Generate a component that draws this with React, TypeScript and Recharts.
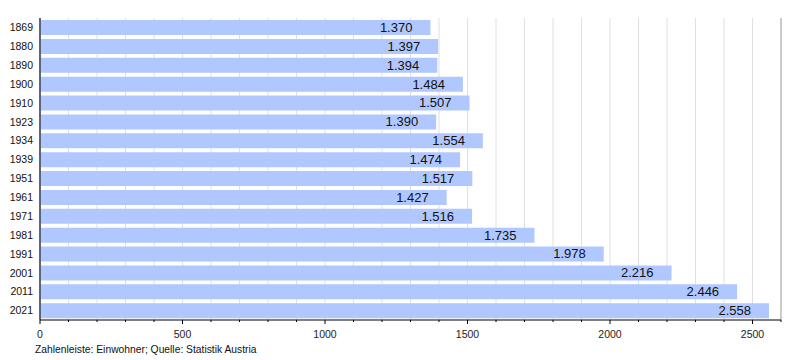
import { BarChart, Bar, XAxis, YAxis, CartesianGrid, LabelList } from 'recharts'

const years = ['1869', '1880', '1890', '1900', '1910', '1923', '1934', '1939', '1951', '1961', '1971', '1981', '1991', '2001', '2011', '2021']
const population = [1370, 1397, 1394, 1484, 1507, 1390, 1554, 1474, 1517, 1427, 1516, 1735, 1978, 2216, 2446, 2558]
const minorTicks = Array.from({ length: 27 }, (_, i) => i * 100)
const majorTicks = [0, 500, 1000, 1500, 2000, 2500]

const data = years.map((y, i) => ({ year: y, value: population[i] }))

const font = '"Liberation Sans", Arial, sans-serif'

function fmtDe(v: number) {
  const s = String(v)
  return s.length > 3 ? s.slice(0, -3) + '.' + s.slice(-3) : s
}

function XTick(props: any) {
  const { x, y, payload } = props
  const major = payload.value % 500 === 0
  return (
    <g>
      <line x1={x} x2={x} y1={y} y2={y + (major ? 4 : 2)} stroke="#000" strokeWidth={1} />
      {major && (
        <text x={x} y={y + 18} textAnchor="middle" fontSize={10.5} fill="#222" fontFamily={font}>
          {payload.value}
        </text>
      )}
    </g>
  )
}

function ValueLabel(props: any) {
  const { x, y, width, height, value } = props
  return (
    <text
      x={x + width - 18}
      y={y + height / 2 + 1}
      textAnchor="end"
      dominantBaseline="middle"
      fontSize={13}
      fill="#111"
      fontFamily={font}
    >
      {fmtDe(value)}
    </text>
  )
}

export default function App() {
  return (
    <div style={{ position: 'absolute', left: 0, top: 0, width: 800, height: 360, background: '#fff' }}>
      <BarChart
        width={800}
        height={360}
        data={data}
        layout="vertical"
        margin={{ top: 18, right: 19, left: 0, bottom: 0 }}
      >
        <CartesianGrid horizontal={false} stroke="#e0e0e0" />
        <CartesianGrid horizontal={false} xAxisId="major" stroke="#a8a8a8" />
        <XAxis
          type="number"
          dataKey="value"
          domain={[0, 2600]}
          ticks={minorTicks}
          interval={0}
          height={40}
          tickSize={0}
          tickMargin={0}
          tickLine={false}
          axisLine={{ stroke: '#000' }}
          tick={<XTick />}
        />
        <XAxis xAxisId="major" type="number" domain={[0, 2600]} ticks={majorTicks} hide />
        <YAxis
          type="category"
          dataKey="year"
          width={40}
          tickSize={0}
          tickMargin={7}
          tickLine={false}
          axisLine={{ stroke: '#000' }}
          tick={{ fontSize: 10.5, fill: '#111', fontFamily: font }}
        />
        <Bar dataKey="value" fill="#b0c8ff" barSize={15} isAnimationActive={false}>
          <LabelList dataKey="value" content={<ValueLabel />} />
        </Bar>
      </BarChart>
      <div style={{ position: 'absolute', left: 35, top: 344, fontSize: 10.3, fontFamily: font, color: '#111' }}>
        Zahlenleiste: Einwohner; Quelle: Statistik Austria
      </div>
    </div>
  )
}
